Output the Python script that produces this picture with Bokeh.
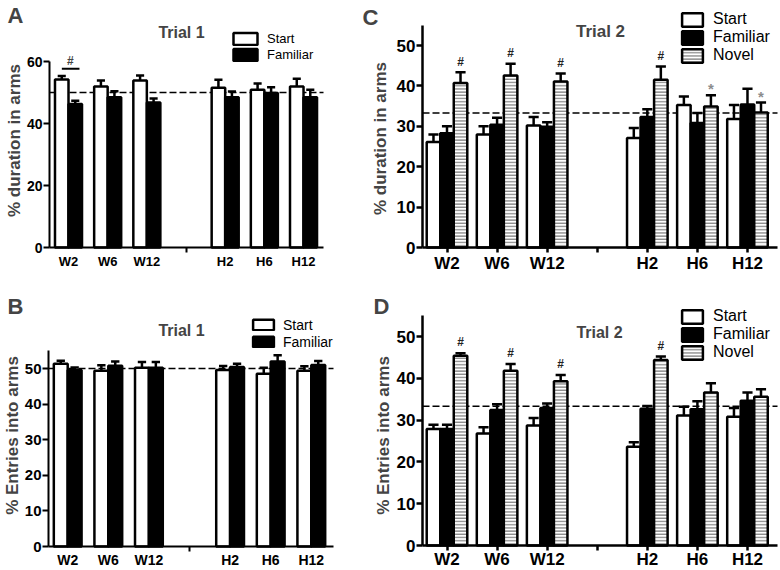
import math
from bokeh.plotting import figure
from bokeh.models import Range1d, FixedTicker, Label, Legend, LegendItem
from bokeh.layouts import column, row
from bokeh.embed import file_html
from bokeh.resources import INLINE
from bokeh.core.properties import value

FONT = "Liberation Sans"

# ---------------- data ----------------
groups = ["W2", "W6", "W12", "H2", "H6", "H12"]
group_pos = [0, 1, 2, 4, 5, 6]
separator_pos = 3

# Panel A: % duration in arms, Trial 1
a_start = [54.2, 51.9, 53.9, 51.5, 50.9, 51.9]
a_start_se = [1.1, 2.0, 1.6, 2.6, 2.0, 2.5]
a_fam = [46.3, 48.5, 46.8, 48.5, 49.8, 48.5]
a_fam_se = [1.0, 1.9, 1.3, 1.8, 1.9, 2.4]

# Panel B: % entries into arms, Trial 1
b_start = [51.3, 49.4, 50.2, 49.6, 48.5, 49.4]
b_start_se = [0.9, 1.5, 1.6, 1.1, 1.7, 1.2]
b_fam = [49.6, 50.8, 50.2, 50.4, 52.0, 51.0]
b_fam_se = [0.7, 1.2, 1.6, 0.9, 1.7, 1.1]

# Panel C: % duration in arms, Trial 2
c_start = [26.1, 28.0, 30.2, 27.1, 35.3, 31.8]
c_start_se = [1.9, 2.0, 2.1, 2.5, 2.1, 3.5]
c_fam = [28.3, 30.4, 29.9, 32.3, 30.8, 35.4]
c_fam_se = [1.7, 1.7, 1.1, 1.9, 2.5, 3.9]
c_nov = [40.7, 42.6, 41.1, 41.5, 34.9, 33.4]
c_nov_se = [2.7, 2.9, 2.0, 3.3, 2.8, 2.5]
c_marks = ["#", "#", "#", "#", "*", "*"]

# Panel D: % entries into arms, Trial 2
d_start = [27.9, 26.8, 28.7, 23.6, 31.1, 30.8]
d_start_se = [1.0, 1.5, 1.8, 1.1, 2.1, 2.1]
d_fam = [27.9, 32.4, 32.9, 32.7, 32.6, 34.6]
d_fam_se = [1.0, 1.4, 1.1, 0.7, 1.9, 2.0]
d_nov = [45.4, 41.8, 39.3, 44.4, 36.6, 35.6]
d_nov_se = [0.6, 1.6, 1.5, 0.8, 2.2, 1.8]
d_marks = ["#", "#", "#", "#", "", ""]

chance_two_arms = 50
chance_three_arms = 33.3

STYLES = {
    "Start": dict(fill_color="white", line_color="black"),
    "Familiar": dict(fill_color="black", line_color="black"),
    "Novel": dict(fill_color="white", line_color="black",
                  hatch_pattern="horizontal_line", hatch_color="#8a8a8a",
                  hatch_scale=3.2, hatch_weight=1.5),
}


def make_panel(cfg):
    ox, oy, W, H = cfg["canvas"]
    g0, gu = cfg["xpx"]          # pixel of group 0 centre, pixels per group
    y0, yu = cfg["ypx"]          # pixel of value 0, pixels per unit
    L, R = cfg["axis_px"]        # axis extent in pixels
    ymax = cfg["ymax"]
    xr = ((ox - g0) / gu, (ox + W - g0) / gu)
    yr = ((y0 - (oy + H)) / yu, (y0 - oy) / yu)
    ax_lo, ax_hi = (L - g0) / gu, (R - g0) / gu

    p = figure(width=W, height=H, x_range=Range1d(*xr), y_range=Range1d(*yr),
               toolbar_location=None, output_backend="svg", min_border=0)
    p.grid.visible = False
    p.outline_line_color = None
    p.background_fill_color = "white"
    p.border_fill_color = "white"

    def rel(X, Y):
        return X - ox, (oy + H) - Y

    # chance level (dashed)
    p.segment(x0=[ax_lo], y0=[cfg["chance"]], x1=[ax_hi], y1=[cfg["chance"]],
              line_color="black", line_width=1.6, line_dash="7 3", level="underlay")

    series = cfg["series"]
    n = len(series)
    bw = cfg["bw"]
    items = []
    for i, (name, vals, ses) in enumerate(series):
        off = (i - (n - 1) / 2) * bw
        xs = [g + off for g in group_pos]
        r = p.vbar(x=xs, top=vals, bottom=0, width=bw, line_width=2.5, **STYLES[name])
        tops = [v + e for v, e in zip(vals, ses)]
        p.segment(x0=xs, y0=vals, x1=xs, y1=tops, line_color="black", line_width=2.5)
        cw = bw * cfg["cap"]
        p.segment(x0=[x - cw / 2 for x in xs], y0=tops, x1=[x + cw / 2 for x in xs], y1=tops,
                  line_color="black", line_width=2.5)
        items.append(LegendItem(label=name, renderers=[r]))
        if name == "Novel" and cfg.get("marks"):
            marks = cfg["marks"]
            my = [t + (2.6 if m == "#" else 1.6) for t, m in zip(tops, marks)]
            mc = ["#222222" if m == "#" else "#8c8c8c" for m in marks]
            ms = ["12px" if m == "#" else "15px" for m in marks]
            p.text(x=xs, y=my, text=marks, text_color=mc, text_font_size=ms,
                   text_align="center", text_baseline="middle",
                   text_font=value(FONT), text_font_style="bold")

    # axes (drawn at fixed locations inside the canvas)
    fs_x, fs_y = cfg["tick_fs"]
    for ax in (p.xaxis[0], p.yaxis[0]):
        ax.axis_line_width = cfg["axis_w"]
        ax.axis_line_color = "black"
        ax.major_tick_line_width = cfg["axis_w"]
        ax.major_tick_line_color = "black"
        ax.major_tick_in = 0
        ax.major_label_text_font = FONT
        ax.major_label_text_font_style = "bold"
        ax.major_label_text_color = "black"
    p.yaxis.fixed_location = ax_lo
    p.yaxis.bounds = (0, ymax)
    p.xaxis.fixed_location = 0
    p.xaxis.bounds = (ax_lo, ax_hi)
    p.yaxis.ticker = FixedTicker(ticks=cfg["yticks"], minor_ticks=[])
    p.yaxis.major_tick_out = 6
    p.yaxis.major_label_standoff = 1
    p.yaxis.major_label_text_font_size = fs_y
    p.yaxis.minor_tick_line_color = None

    labels = {g: name for g, name in zip(group_pos, groups)}
    if cfg["x_ticks_visible"]:
        p.xaxis.ticker = FixedTicker(ticks=group_pos + [separator_pos], minor_ticks=[])
        labels[separator_pos] = ""
        p.xaxis.major_tick_out = 5
        p.xaxis.minor_tick_line_color = None
    else:
        p.xaxis.ticker = FixedTicker(ticks=group_pos, minor_ticks=[separator_pos])
        p.xaxis.major_tick_out = 0
        p.xaxis.major_tick_line_color = None
        p.xaxis.minor_tick_in = 0
        p.xaxis.minor_tick_out = 5
        p.xaxis.minor_tick_line_width = 2
        p.xaxis.minor_tick_line_color = "black"
    p.xaxis.major_label_standoff = cfg["x_standoff"]
    p.xaxis.major_label_overrides = labels
    p.xaxis.major_label_text_font_size = fs_x

    # y axis title
    X, Y = cfg["ylabel_pos"]
    x, y = rel(X, Y)
    p.add_layout(Label(x=x, y=y, x_units="screen", y_units="screen", text=cfg["ylabel"],
                       angle=math.pi / 2, text_align="center", text_baseline="middle",
                       text_font=FONT, text_font_style="bold", text_font_size="17px"))

    # title and panel letter
    X, Y = cfg["title_pos"]
    x, y = rel(X, Y)
    p.add_layout(Label(x=x, y=y, x_units="screen", y_units="screen", text=cfg["title"],
                       text_align="center", text_baseline="middle", text_font=FONT,
                       text_font_style="bold", text_font_size=cfg["title_fs"]))
    X, Y = cfg["letter_pos"]
    x, y = rel(X, Y)
    p.add_layout(Label(x=x, y=y, x_units="screen", y_units="screen", text=cfg["letter"],
                       text_align="center", text_baseline="middle", text_font=FONT,
                       text_font_style="bold", text_font_size="22px"))

    # legend
    lg = cfg["legend"]
    gx, gtop = lg["topleft"]
    lh = lg["row"] * n
    loc = rel(gx, gtop + lh)
    legend = Legend(items=items, location=loc, orientation="vertical",
                    glyph_width=lg["gw"], glyph_height=lg["gh"], label_height=lg["row"],
                    label_standoff=lg["standoff"], spacing=0, padding=0, margin=0,
                    border_line_color=None, background_fill_alpha=0,
                    label_text_font=FONT, label_text_font_size=lg["fs"],
                    label_text_color="black", label_text_baseline="middle")
    p.add_layout(legend)
    return p


pA_cfg = dict(canvas=(0, 0, 360, 279), xpx=(68, 39.17), ypx=(247, 3.1), axis_px=(49, 323),
              ymax=60, yticks=[0, 20, 40, 60], chance=chance_two_arms, bw=0.345, cap=0.6,
              series=[("Start", a_start, a_start_se), ("Familiar", a_fam, a_fam_se)],
              tick_fs=("13px", "14px"), axis_w=2, x_ticks_visible=False, x_standoff=1,
              ylabel="% duration in arms", ylabel_pos=(14, 140),
              title="Trial 1", title_pos=(181, 32), title_fs="16px",
              letter="A", letter_pos=(15, 15),
              legend=dict(topleft=(230, 30), row=16, gw=30, gh=15, standoff=7, fs="13px"))

pB_cfg = dict(canvas=(0, 279, 360, 290), xpx=(67.2, 40.6), ypx=(546, 3.56), axis_px=(48, 333),
              ymax=55, yticks=[0, 10, 20, 30, 40, 50], chance=chance_two_arms, bw=0.342, cap=0.6,
              series=[("Start", b_start, b_start_se), ("Familiar", b_fam, b_fam_se)],
              tick_fs=("14px", "15px"), axis_w=2, x_ticks_visible=False, x_standoff=0,
              ylabel="% Entries into arms", ylabel_pos=(12, 435),
              title="Trial 1", title_pos=(181, 330), title_fs="16px",
              letter="B", letter_pos=(15, 306),
              legend=dict(topleft=(250, 316), row=17, gw=26, gh=13, standoff=7, fs="14px"))

pC_cfg = dict(canvas=(360, 0, 419, 279), xpx=(446.5, 50.08), ypx=(247, 4.04), axis_px=(422, 777),
              ymax=55, yticks=[0, 10, 20, 30, 40, 50], chance=chance_three_arms, bw=0.27, cap=0.75,
              series=[("Start", c_start, c_start_se), ("Familiar", c_fam, c_fam_se),
                      ("Novel", c_nov, c_nov_se)],
              marks=c_marks,
              tick_fs=("17px", "17px"), axis_w=2.5, x_ticks_visible=True, x_standoff=1,
              ylabel="% duration in arms", ylabel_pos=(380, 138),
              title="Trial 2", title_pos=(600, 31), title_fs="17px",
              letter="C", letter_pos=(370, 17),
              legend=dict(topleft=(679, 10), row=18, gw=26, gh=17, standoff=8, fs="16px"))

pD_cfg = dict(canvas=(360, 279, 419, 290), xpx=(446.5, 50.08), ypx=(545, 4.18), axis_px=(422, 777),
              ymax=55, yticks=[0, 10, 20, 30, 40, 50], chance=chance_three_arms, bw=0.27, cap=0.75,
              series=[("Start", d_start, d_start_se), ("Familiar", d_fam, d_fam_se),
                      ("Novel", d_nov, d_nov_se)],
              marks=d_marks,
              tick_fs=("17px", "17px"), axis_w=2.5, x_ticks_visible=True, x_standoff=-1,
              ylabel="% Entries into arms", ylabel_pos=(383, 435),
              title="Trial 2", title_pos=(599, 332), title_fs="16px",
              letter="D", letter_pos=(381, 306),
              legend=dict(topleft=(679, 307), row=18, gw=26, gh=17, standoff=8, fs="16px"))

pA = make_panel(pA_cfg)
pB = make_panel(pB_cfg)
pC = make_panel(pC_cfg)
pD = make_panel(pD_cfg)

# significance bracket in panel A (W2 Start vs Familiar)
pA.segment(x0=[-0.17], y0=[57.7], x1=[0.28], y1=[57.7], line_color="black", line_width=2)
pA.add_layout(Label(x=0.05, y=60.3, text="#", text_align="center", text_baseline="middle",
                    text_font=FONT, text_font_style="bold", text_font_size="12px"))

layout = column(row(pA, pC), row(pB, pD))
open("out.html", "w").write(file_html(layout, INLINE))
